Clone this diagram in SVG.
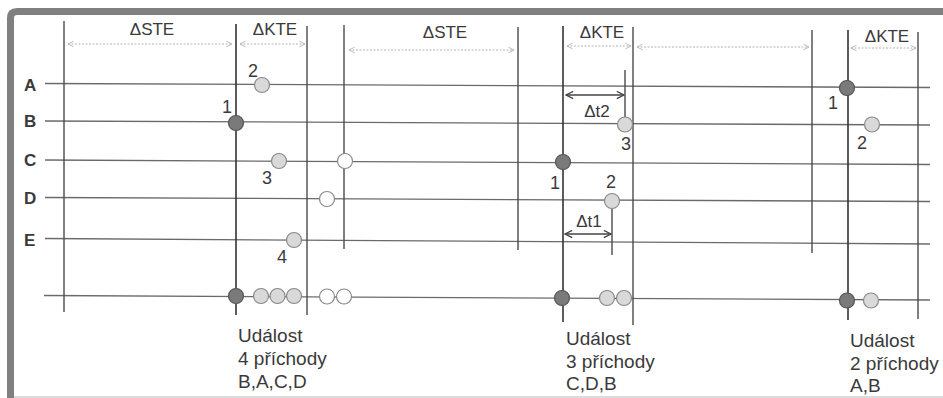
<svg xmlns="http://www.w3.org/2000/svg" width="943" height="398" viewBox="0 0 943 398">
<defs>
<style>
.frame{fill:none;stroke:#808080;stroke-width:7}
.hl{stroke:#6a6a6a;stroke-width:1.3;fill:none}
.vl{stroke:#4a4a4a;stroke-width:1.4;fill:none}
.ev{stroke:#333;stroke-width:1.6;fill:none}
.dim{stroke:#b4b4b4;stroke-width:1;stroke-dasharray:2 1.5;fill:none;marker-start:url(#ah);marker-end:url(#ah)}
.dt{stroke:#444;stroke-width:1.3;fill:none;marker-start:url(#ah2);marker-end:url(#ah2)}
.dark{fill:#7a7a7a;stroke:#555;stroke-width:1.2}
.light{fill:#d9d9d9;stroke:#8a8a8a;stroke-width:1.2}
.open{fill:#fff;stroke:#8a8a8a;stroke-width:1.2}
.row{font-family:"Liberation Sans",Arial,sans-serif;font-weight:bold;font-size:17px;fill:#3a3a3a}
.lab{font-family:"Liberation Sans",Arial,sans-serif;font-size:17px;fill:#3a3a3a}
.num{font-family:"Liberation Sans",Arial,sans-serif;font-size:18px;fill:#3a3a3a}
.txt{font-family:"Liberation Sans",Arial,sans-serif;font-size:19px;fill:#3a3a3a}
</style>
<marker id="ah" viewBox="0 0 10 10" refX="9" refY="5" markerWidth="7" markerHeight="7" orient="auto-start-reverse" markerUnits="userSpaceOnUse">
<path d="M1,1 L9,5 L1,9" fill="none" stroke="#b4b4b4" stroke-width="1.3"/>
</marker>
<marker id="ah2" viewBox="0 0 10 10" refX="9" refY="5" markerWidth="9" markerHeight="9" orient="auto-start-reverse" markerUnits="userSpaceOnUse">
<path d="M1,1 L9,5 L1,9" fill="none" stroke="#444" stroke-width="1.4"/>
</marker>
</defs>
<rect width="943" height="398" fill="#fff"/>
<path class="frame" d="M943,11.5 L17,11.5 Q10.5,11.5 10.5,18 L10.5,398"/>
<line x1="14" y1="397" x2="943" y2="397" stroke="#d0d0d0" stroke-width="1.5"/>

<g id="grid">
<line class="hl" x1="45" y1="83.5" x2="930" y2="87.5"/>
<line class="hl" x1="45" y1="121" x2="930" y2="125"/>
<line class="hl" x1="45" y1="160" x2="930" y2="164.5"/>
<line class="hl" x1="45" y1="197.5" x2="930" y2="201.5"/>
<line class="hl" x1="45" y1="238.5" x2="930" y2="244"/>
<line class="hl" x1="44" y1="295.5" x2="930" y2="300"/>
<line class="vl" x1="64" y1="21" x2="64" y2="312"/>
<line class="ev" x1="236" y1="24" x2="236" y2="315"/>
<line class="vl" x1="307" y1="26" x2="307" y2="315"/>
<line class="vl" x1="344" y1="25" x2="344" y2="249"/>
<line class="vl" x1="518" y1="27" x2="518" y2="250"/>
<line class="ev" x1="563" y1="26" x2="563" y2="322"/>
<line class="vl" x1="633" y1="27" x2="633" y2="325"/>
<line class="vl" x1="812" y1="30" x2="812" y2="253"/>
<line class="ev" x1="848" y1="30" x2="848" y2="320"/>
<line class="vl" x1="918" y1="32" x2="918" y2="319"/>
<line class="vl" x1="625" y1="70" x2="625" y2="117"/>
<line class="vl" x1="612" y1="208" x2="612" y2="255"/>
</g>

<g id="connectors">
<line class="dim" x1="68" y1="44" x2="232" y2="44"/>
<line class="dim" x1="240" y1="44" x2="305" y2="44"/>
<line class="dim" x1="349" y1="50" x2="514" y2="50"/>
<line class="dim" x1="567" y1="46" x2="631" y2="46"/>
<line class="dim" x1="637" y1="47" x2="809" y2="47"/>
<line class="dim" x1="851" y1="48" x2="916" y2="48"/>
<line class="dt" x1="566" y1="95" x2="624" y2="95"/>
<line class="dt" x1="565" y1="234" x2="611" y2="234"/>
</g>

<g id="labels">
<text class="lab" x="152" y="35" text-anchor="middle">ΔSTE</text>
<text class="lab" x="275" y="35" text-anchor="middle">ΔKTE</text>
<text class="lab" x="445" y="38" text-anchor="middle">ΔSTE</text>
<text class="lab" x="602" y="38" text-anchor="middle">ΔKTE</text>
<text class="lab" x="887" y="42" text-anchor="middle">ΔKTE</text>
<text class="lab" x="597" y="117" text-anchor="middle">Δt2</text>
<text class="lab" x="589" y="227" text-anchor="middle">Δt1</text>
<text class="row" x="24" y="91">A</text>
<text class="row" x="24" y="127">B</text>
<text class="row" x="24" y="166">C</text>
<text class="row" x="24" y="204">D</text>
<text class="row" x="24" y="246">E</text>
</g>

<g id="event1">
<circle class="light" cx="262" cy="85" r="7.5"/>
<text class="num" x="253" y="77" text-anchor="middle">2</text>
<circle class="dark" cx="236" cy="123" r="7.5"/>
<text class="num" x="227" y="113" text-anchor="middle">1</text>
<circle class="light" cx="279" cy="161" r="7.5"/>
<text class="num" x="267" y="184" text-anchor="middle">3</text>
<circle class="light" cx="294" cy="240" r="7.5"/>
<text class="num" x="282" y="263" text-anchor="middle">4</text>
<circle class="open" cx="327" cy="199" r="7.5"/>
<circle class="open" cx="345" cy="161" r="7.5"/>
<circle class="dark" cx="236" cy="296" r="7.5"/>
<circle class="light" cx="261" cy="296" r="7.5"/>
<circle class="light" cx="277.5" cy="296" r="7.5"/>
<circle class="light" cx="294" cy="296" r="7.5"/>
<circle class="open" cx="327" cy="296.5" r="7.5"/>
<circle class="open" cx="344" cy="296.5" r="7.5"/>
<text class="txt" x="238" y="342">Událost</text>
<text class="txt" x="238" y="365">4 příchody</text>
<text class="txt" x="238" y="388">B,A,C,D</text>
</g>

<g id="event2">
<circle class="dark" cx="563" cy="162" r="7.5"/>
<text class="num" x="555" y="189" text-anchor="middle">1</text>
<circle class="light" cx="612" cy="201" r="7.5"/>
<text class="num" x="611" y="188" text-anchor="middle">2</text>
<circle class="light" cx="625" cy="124.5" r="7.5"/>
<text class="num" x="626" y="150" text-anchor="middle">3</text>
<circle class="dark" cx="562" cy="298" r="7.5"/>
<circle class="light" cx="607" cy="298" r="7.5"/>
<circle class="light" cx="624" cy="298" r="7.5"/>
<text class="txt" x="566" y="345">Událost</text>
<text class="txt" x="566" y="368">3 příchody</text>
<text class="txt" x="566" y="390">C,D,B</text>
</g>

<g id="event3">
<circle class="dark" cx="847" cy="88" r="7.5"/>
<text class="num" x="833" y="109" text-anchor="middle">1</text>
<circle class="light" cx="872" cy="124.5" r="7.5"/>
<text class="num" x="862" y="149" text-anchor="middle">2</text>
<circle class="dark" cx="847" cy="300.5" r="7.5"/>
<circle class="light" cx="871" cy="300.5" r="7.5"/>
<text class="txt" x="850" y="347">Událost</text>
<text class="txt" x="850" y="370">2 příchody</text>
<text class="txt" x="850" y="392">A,B</text>
</g>
</svg>
